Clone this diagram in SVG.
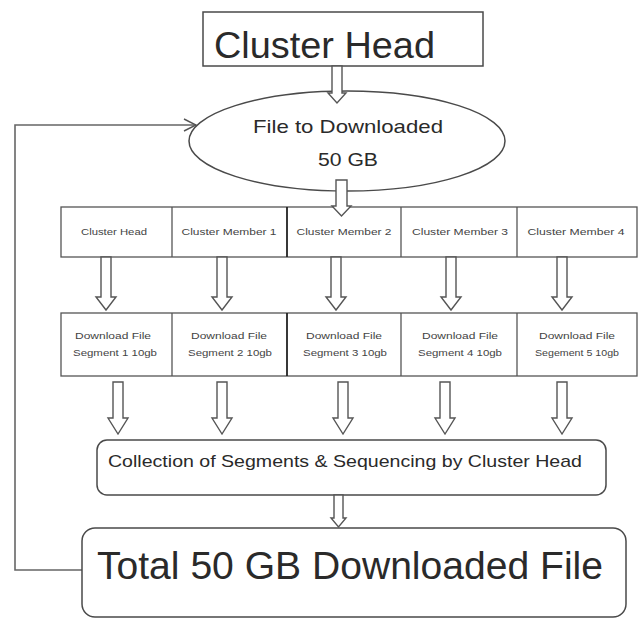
<svg xmlns="http://www.w3.org/2000/svg" width="638" height="619" viewBox="0 0 638 619">
<defs>
<style>
.box{fill:#fff;stroke:#4a4a4a;stroke-width:1.5}
.cell{fill:#fff;stroke:#555;stroke-width:1.3}
.blk{fill:#fff;stroke:#555;stroke-width:1.4;stroke-linejoin:miter}
.line{fill:none;stroke:#666;stroke-width:1.6}
.t{font-family:"Liberation Sans",Arial,sans-serif;fill:#2a2a2a}
.s{font-size:9px;fill:#444;text-anchor:middle}
</style>
<marker id="open" viewBox="0 0 14 14" refX="13" refY="7" markerWidth="14" markerHeight="14" markerUnits="userSpaceOnUse" orient="auto">
<path d="M1,1 L13,7 L1,13" fill="none" stroke="#555" stroke-width="1.4"/>
</marker>
</defs>
<rect width="638" height="619" fill="#fff"/>

<g id="connectors">
<polyline class="line" points="83,570 15,570 15,125 196,125" marker-end="url(#open)"/>
</g>

<g id="cluster-head-top">
<rect class="box" x="203" y="12" width="280" height="54"/>
<text class="t" x="214" y="58" font-size="37" textLength="221" lengthAdjust="spacingAndGlyphs">Cluster Head</text>
</g>

<g id="file-ellipse">
<ellipse class="box" cx="347" cy="141" rx="158" ry="50"/>
<text class="t" x="348" y="133" font-size="19" text-anchor="middle" textLength="190" lengthAdjust="spacingAndGlyphs" fill="#333">File to Downloaded</text>
<text class="t" x="348" y="166" font-size="19" text-anchor="middle" textLength="60" lengthAdjust="spacingAndGlyphs" fill="#333">50 GB</text>
</g>

<g id="members">
<rect class="cell" x="61" y="207" width="576" height="50"/>
<line class="cell" x1="172" y1="207" x2="172" y2="257"/>
<line x1="287" y1="207" x2="287" y2="257" stroke="#222" stroke-width="1.8"/>
<line class="cell" x1="401" y1="207" x2="401" y2="257"/>
<line class="cell" x1="517" y1="207" x2="517" y2="257"/>
<text class="t s" x="114" y="235" textLength="66" lengthAdjust="spacingAndGlyphs">Cluster Head</text>
<text class="t s" x="229" y="235" textLength="95" lengthAdjust="spacingAndGlyphs">Cluster Member 1</text>
<text class="t s" x="344" y="235" textLength="95" lengthAdjust="spacingAndGlyphs">Cluster Member 2</text>
<text class="t s" x="460" y="235" textLength="96" lengthAdjust="spacingAndGlyphs">Cluster Member 3</text>
<text class="t s" x="576" y="235" textLength="97" lengthAdjust="spacingAndGlyphs">Cluster Member 4</text>
</g>

<g id="segments">
<rect class="cell" x="61" y="313" width="576" height="63"/>
<line class="cell" x1="172" y1="313" x2="172" y2="376"/>
<line x1="287" y1="313" x2="287" y2="376" stroke="#222" stroke-width="1.8"/>
<line class="cell" x1="401" y1="313" x2="401" y2="376"/>
<line class="cell" x1="517" y1="313" x2="517" y2="376"/>
<text class="t s" x="113" y="339" textLength="76" lengthAdjust="spacingAndGlyphs">Download File</text>
<text class="t s" x="115" y="356" textLength="84" lengthAdjust="spacingAndGlyphs">Segment 1 10gb</text>
<text class="t s" x="229" y="339" textLength="76" lengthAdjust="spacingAndGlyphs">Download File</text>
<text class="t s" x="230" y="356" textLength="84" lengthAdjust="spacingAndGlyphs">Segment 2 10gb</text>
<text class="t s" x="344" y="339" textLength="76" lengthAdjust="spacingAndGlyphs">Download File</text>
<text class="t s" x="345" y="356" textLength="84" lengthAdjust="spacingAndGlyphs">Segment 3 10gb</text>
<text class="t s" x="460" y="339" textLength="76" lengthAdjust="spacingAndGlyphs">Download File</text>
<text class="t s" x="460" y="356" textLength="84" lengthAdjust="spacingAndGlyphs">Segment 4 10gb</text>
<text class="t s" x="577" y="339" textLength="76" lengthAdjust="spacingAndGlyphs">Download File</text>
<text class="t s" x="577" y="356" textLength="84" lengthAdjust="spacingAndGlyphs">Segement 5 10gb</text>
</g>

<g id="collection">
<rect class="box" x="97" y="440" width="509" height="55" rx="10" ry="10"/>
<text class="t" x="108" y="467" font-size="17" textLength="474" lengthAdjust="spacingAndGlyphs" fill="#333">Collection of Segments &amp; Sequencing by Cluster Head</text>
</g>

<g id="total">
<rect class="box" x="82" y="528" width="544" height="89" rx="13" ry="13"/>
<text class="t" x="97" y="579" font-size="38" textLength="506" lengthAdjust="spacingAndGlyphs" fill="#222">Total 50 GB Downloaded File</text>
</g>

<g id="block-arrows">
<path class="blk" d="M332,66 H342 V93 H346 L337,103 L328,93 H332 Z"/>
<path class="blk" d="M336,180 H347 V206 H351 L341.5,216 L332,206 H336 Z"/>
<path class="blk" d="M101,257 H111 V297 H116 L106,310 L96,297 H101 Z"/>
<path class="blk" d="M217,257 H227 V297 H232 L222,310 L212,297 H217 Z"/>
<path class="blk" d="M331,257 H341 V297 H346 L336,310 L326,297 H331 Z"/>
<path class="blk" d="M446,257 H456 V297 H461 L451,310 L441,297 H446 Z"/>
<path class="blk" d="M557,257 H567 V297 H572 L562,310 L552,297 H557 Z"/>
<path class="blk" d="M113,382 H123 V418 H128 L118,434 L108,418 H113 Z" stroke="#333" stroke-width="1.8"/>
<path class="blk" d="M217,382 H227 V418 H232 L222,434 L212,418 H217 Z"/>
<path class="blk" d="M338,382 H348 V418 H353 L343,434 L333,418 H338 Z"/>
<path class="blk" d="M440,382 H450 V418 H455 L445,434 L435,418 H440 Z"/>
<path class="blk" d="M557,382 H567 V418 H572 L562,434 L552,418 H557 Z"/>
<path class="blk" d="M334,495 H343 V518 H346 L338.5,527 L331,518 H334 Z"/>
</g>
</svg>
